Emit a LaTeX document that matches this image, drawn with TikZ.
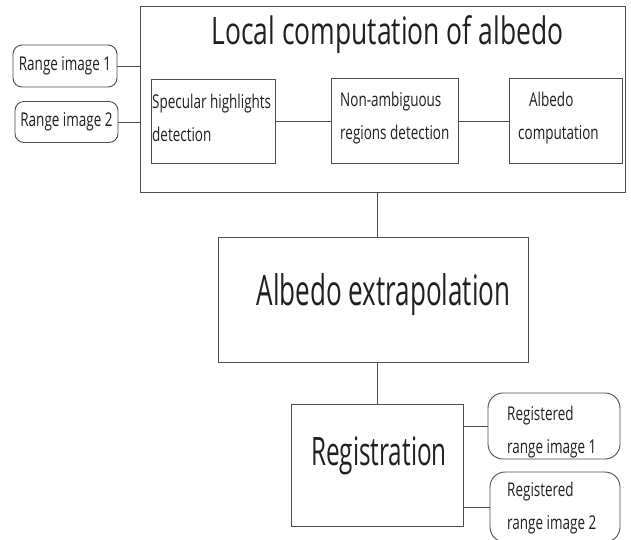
\documentclass[tikz,border=0pt]{standalone}
\usepackage{fontspec}
\setmainfont{Open Sans}
\newfontfamily\titlefont[FakeStretch=0.70]{Open Sans}
\newfontfamily\bigfont[FakeStretch=0.62]{Open Sans}
\newfontfamily\smallfont[FakeStretch=0.71]{Open Sans}
\definecolor{txt}{HTML}{231F20}
\definecolor{ln}{HTML}{4D4D4D}
\tikzset{
  box/.style={draw=ln, line width=0.9pt, rectangle, inner sep=0pt, text=txt},
  rbox/.style={box, rounded corners=9pt},
  rrbox/.style={box, rounded corners=15pt},
  small/.style={font=\smallfont\fontsize{19}{33}\selectfont, text=txt, align=left, inner sep=0pt},
  conn/.style={draw=ln, line width=0.9pt},
}
\begin{document}
\begin{tikzpicture}[x=1pt,y=-1pt]
\fill[white] (0,0) rectangle (631,539);
\begin{scope}
\clip (0,0) rectangle (631,539);
\node[box, minimum width=485pt, minimum height=186pt] (outer) at (382.5,99) {};
\node[font=\titlefont\fontsize{37.8}{40}\selectfont, text=txt, anchor=base, inner sep=0pt] (title) at (387.5,44) {Local computation of albedo};
\node[box, minimum width=124pt, minimum height=84pt] (spec) at (213,121) {};
\node[small, anchor=west] (spect) at (152,118) {Specular highlights\\detection};
\node[box, minimum width=127pt, minimum height=85pt] (nonamb) at (394.5,121) {};
\node[small, anchor=west] (nonambt) at (340,118) {Non-ambiguous\\regions detection};
\node[box, minimum width=113pt, minimum height=85pt] (albc) at (565.5,121) {};
\node[small, anchor=west] (albct) at (518,118) {\hspace{11pt}Albedo\\computation};
\node[rbox, small, minimum width=104pt, minimum height=42pt] (r1) at (65,66) {Range image 1};
\node[rbox, small, minimum width=103pt, minimum height=41pt] (r2) at (66.5,122) {Range image 2};
\node[box, minimum width=310pt, minimum height=125pt] (extrap) at (373,299.5) {};
\node[font=\bigfont\fontsize{42}{44}\selectfont, text=txt, anchor=base, inner sep=0pt] (extrapt) at (383.5,305) {Albedo extrapolation};
\node[box, minimum width=172pt, minimum height=122pt] (reg) at (377,465) {};
\node[font=\bigfont\fontsize{39.2}{42}\selectfont, text=txt, anchor=base, inner sep=0pt] (regt) at (379,465) {Registration};
\node[rrbox, minimum width=132pt, minimum height=66pt] (rr1) at (554,426) {};
\node[small, anchor=west] (rr1t) at (507,432) {Registered\\range image 1};
\node[rrbox, minimum width=130pt, minimum height=70pt] (rr2) at (555,507) {};
\node[small, anchor=west] (rr2t) at (507,508) {Registered\\range image 2};
\draw[conn] (r1.east) -- (r1.east -| outer.west);
\draw[conn] (r2.east) -- (r2.east -| outer.west);
\draw[conn] (spec.east) -- (nonamb.west);
\draw[conn] (nonamb.east) -- (albc.west);
\draw[conn] (reg.north |- outer.south) -- (reg.north |- extrap.north);
\draw[conn] (reg.north |- extrap.south) -- (reg.north);
\draw[conn] (reg.east |- rr1.west) -- (rr1.west);
\draw[conn] (reg.east |- rr2.west) -- (rr2.west);
\end{scope}
\pgfresetboundingbox
\useasboundingbox (0,0) rectangle (631,539);
\end{tikzpicture}
\end{document}
